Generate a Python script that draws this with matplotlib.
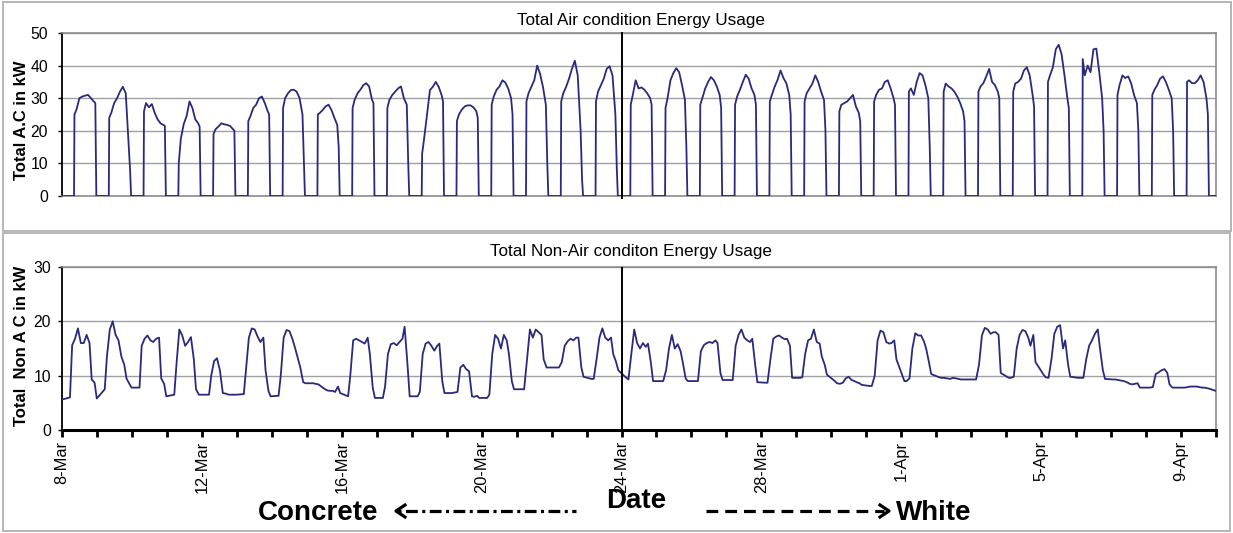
import numpy as np
import matplotlib
matplotlib.use("Agg")
import matplotlib.pyplot as plt
from matplotlib.lines import Line2D
from matplotlib.patches import Rectangle

plt.rcParams['font.family'] = ['Liberation Sans', 'DejaVu Sans']
plt.rcParams['lines.scale_dashes'] = False

# ---------------- data ----------------
# Air-condition load: hours of the day at which readings are given (AC is 0 outside START..END)
AC_START_HOUR = 8.3
AC_END_HOUR = 23.7
AC_ON_HOURS = [8.6, 10, 12, 14, 16, 18, 20, 22, 23.0]
AC_VALUES = [
    [25, 26.5, 30, 30.5, 30.8, 31, 30, 29, 28.5],
    [24, 25.5, 28.5, 30, 32, 33.5, 31.5, 15.5, 8],
    [26, 28.5, 27.2, 28.2, 25.5, 23.5, 22.3, 21.8, 21.5],
    [10, 17.5, 22, 24.5, 29, 27, 23.5, 22.3, 21.3],
    [19, 20.5, 21.3, 22.3, 22, 21.8, 21.5, 20.5, 20],
    [23, 24.4, 27, 28, 30, 30.5, 28.5, 26, 25],
    [27, 30, 31.5, 32.5, 32.6, 32, 30, 25, 10],
    [25, 25.5, 26.4, 27.5, 28, 26.4, 24, 21.8, 15],
    [27, 29.5, 31.5, 32.6, 34, 34.6, 33.6, 29.5, 28.5],
    [27, 29.5, 31, 32, 33, 33.6, 30, 28, 10],
    [13, 17.7, 25, 32.5, 33.5, 35, 33.5, 31, 29],
    [23, 25, 26.5, 27.5, 27.8, 27.8, 27.2, 26, 24],
    [28, 30.5, 32.6, 33.6, 35.5, 34.8, 33, 30, 25],
    [29, 31.5, 33.5, 35.5, 40, 37.5, 33.5, 28, 10],
    [29, 31.5, 33.5, 36, 39, 41.5, 37, 20, 5],
    [29, 32, 34, 36, 39, 39.8, 37, 25, 8],
    [28, 31, 35.5, 33, 33.3, 32.6, 31.5, 30, 28],
    [27, 30, 35.5, 37.7, 39.2, 38, 34, 29.5, 15],
    [28, 30, 33, 35, 36.5, 35.5, 33.6, 31, 27],
    [28, 30.5, 32.6, 35, 37.2, 36, 33, 31, 28],
    [29, 31, 33.6, 35.7, 38.5, 36.2, 34.6, 31, 25],
    [29, 31.5, 33, 34.5, 37, 35, 32, 29.5, 20],
    [26, 28, 28.5, 29, 30, 31, 27.5, 25.5, 23],
    [29, 31, 32.6, 33, 35, 35.5, 33, 30, 28],
    [32, 33, 31, 35, 37.7, 37, 34, 30, 15],
    [32, 34.5, 33.6, 33, 32, 30.5, 28.5, 26, 23],
    [32, 33.6, 34.6, 36.7, 39, 35, 34, 32, 30],
    [32, 34.5, 35, 36, 38.5, 39.5, 37, 31, 27.5],
    [35, 37, 39.5, 45, 46.4, 43.5, 37, 30, 27],
    [42, 37, 40, 38, 45, 45.2, 38, 30, 20],
    [31, 34, 37, 36.2, 36.7, 34.6, 31, 28.5, 20],
    [31, 32.5, 34, 36, 36.7, 35, 32.6, 30, 20],
    [35, 35.5, 34.6, 34.6, 35.5, 37, 35, 30, 25],
]

# Non air-condition load
NA_HOURS = [0, 5.5, 7, 9, 11, 13, 15, 17, 19, 20.5, 22.5]
NA_VALUES = [
    [5.6, 6, 15.6, 16.8, 18.7, 16, 16, 17.5, 16, 9.3, 8.7],
    [5.8, 7.5, 13.5, 18.5, 20, 17.5, 16.5, 13.5, 12, 9.5, 8.5],
    [7.8, 7.8, 15.5, 16.8, 17.4, 16.5, 16.2, 16.8, 17, 9.5, 8.5],
    [6.2, 6.5, 12, 18.5, 17.4, 15.5, 16.2, 17.1, 13, 7.5, 6.5],
    [6.5, 6.5, 10, 12.7, 13.2, 11, 6.8, 6.7, 6.5, 6.5, 6.5],
    [6.5, 6.6, 11, 17, 18.7, 18.5, 17.2, 16.2, 17, 11, 7.2],
    [6.2, 6.3, 10, 17, 18.4, 18.2, 16.8, 15, 13, 11.5, 8.8],
    [8.6, 8.6, 8.5, 8.4, 8, 7.6, 7.3, 7.2, 7.2, 7.0, 8.0],
    [6.8, 6.2, 10, 16.5, 16.8, 16.5, 16.2, 15.9, 17, 14, 7.8],
    [5.9, 5.9, 8, 14, 15.8, 16, 15.6, 16.2, 16.8, 19, 12],
    [6.2, 6.2, 7, 14, 15.9, 16.2, 15.5, 14.6, 15.5, 15.9, 9],
    [6.8, 6.8, 6.9, 7, 11.5, 12, 11.2, 10.8, 6.2, 6.1, 6.3],
    [5.9, 5.9, 6.5, 14, 17.5, 16.8, 15, 17.5, 16.5, 14, 9],
    [7.5, 7.5, 7.5, 13, 18.5, 17, 18.5, 18, 17.5, 13, 11.5],
    [11.5, 11.5, 11.5, 12.5, 15.5, 16.3, 16.8, 16.5, 17, 17, 11.5],
    [9.8, 9.4, 9.4, 13, 17, 18.7, 17, 16.5, 17, 14, 12.5],
    [11, 9.6, 9.3, 14, 18.5, 16, 15, 16, 15.3, 15.9, 12.4],
    [9, 9, 9, 11, 15, 17.5, 15, 15.8, 14.5, 12.5, 9.5],
    [9, 9, 9, 14.5, 15.6, 16, 16.2, 16, 16.5, 16, 10.5],
    [9.2, 9.2, 9.2, 15.5, 17.5, 18.5, 17, 16.5, 16.2, 16.8, 12],
    [8.8, 8.7, 8.7, 13, 16.8, 17.2, 17.4, 17, 16.7, 16.8, 15.5],
    [9.6, 9.6, 9.7, 14, 16.5, 16.8, 18.5, 16.2, 15.9, 13.5, 12],
    [10.2, 9, 8.6, 8.5, 8.7, 9.5, 9.8, 9.2, 9, 8.8, 8.6],
    [8.3, 8.1, 8.1, 10, 16.5, 18.3, 18, 16.2, 15.9, 16, 16.5],
    [13, 9, 9, 9.5, 15, 17.8, 17.4, 17.4, 16.3, 15, 12.4],
    [10.3, 9.7, 9.6, 9.6, 9.5, 9.4, 9.6, 9.5, 9.4, 9.3, 9.3],
    [9.3, 9.3, 9.3, 12, 17.4, 18.8, 18.5, 17.7, 18, 18, 17.5],
    [10.5, 9.6, 9.6, 9.8, 15, 17.5, 18.4, 18.2, 17, 15.5, 17.5],
    [12.5, 10.2, 9.7, 9.6, 13, 17.7, 19, 19.3, 15, 16.5, 12],
    [9.8, 9.6, 9.6, 9.6, 13, 15.5, 16.5, 17.7, 18.5, 15, 11],
    [9.4, 9.3, 9.3, 9.2, 9.1, 9.0, 8.8, 8.5, 8.4, 8.5, 8.6],
    [7.8, 7.8, 7.8, 7.9, 10.3, 10.6, 11, 11.2, 10.5, 8.4, 7.8],
    [7.8, 7.8, 7.8, 7.9, 8, 8, 8, 7.9, 7.8, 7.8, 7.7],
]
NA_TAIL_HOURS = [0, 4.5]
NA_TAIL_VALUES = [7.6, 7.2]

N_TICKS = 33
TICK_STEP = 1.0058          # one axis category (day tick) in data days
TICK_LABEL_EVERY = 4
TICK_LABELS = ['8-Mar', '12-Mar', '16-Mar', '20-Mar', '24-Mar',
               '28-Mar', '1-Apr', '5-Apr', '9-Apr']
SWITCH_TICK = 16            # 24-Mar: concrete -> white roof

# ---------------- series assembly ----------------
x_end = N_TICKS * TICK_STEP
ac_x, ac_y = [0.0], [0.0]
for d, vals in enumerate(AC_VALUES):
    ac_x += [d + AC_START_HOUR / 24] + [d + h / 24 for h in AC_ON_HOURS] + [d + AC_END_HOUR / 24]
    ac_y += [0.0] + list(vals) + [0.0]
ac_x.append(x_end)
ac_y.append(0.0)

na_x, na_y = [], []
for d, vals in enumerate(NA_VALUES):
    na_x += [d + h / 24 for h in NA_HOURS]
    na_y += list(vals)
nd = len(NA_VALUES)
na_x += [nd + h / 24 for h in NA_TAIL_HOURS]
na_y += NA_TAIL_VALUES

# ---------------- figure ----------------
W, H = 1233, 533
fig = plt.figure(figsize=(W / 100, H / 100), dpi=100)

def fx(x):
    return x / W

def fy(y):
    return 1 - y / H

LINE_C = '#2a2a7c'
GRID_C = '#a0a0a0'

# outer chart boxes
fig.add_artist(Rectangle((fx(3), fy(231)), fx(1228), 229 / H, transform=fig.transFigure,
                         fill=False, edgecolor='#b0b0b0', lw=1.3))
fig.add_artist(Rectangle((fx(3), fy(531)), fx(1227), 298 / H, transform=fig.transFigure,
                         fill=False, edgecolor='#b0b0b0', lw=1.3))

ax1 = fig.add_axes([fx(62), fy(196), fx(1154), 163 / H])
ax2 = fig.add_axes([fx(62), fy(430), fx(1154), 163 / H])

# top panel
ax1.plot(ac_x, ac_y, color=LINE_C, lw=1.3, zorder=3)
ax1.set_xlim(0, x_end)
ax1.set_ylim(0, 50)
ax1.set_yticks([0, 10, 20, 30, 40, 50])
ax1.yaxis.grid(True, color=GRID_C, lw=1.0)
ax1.set_axisbelow(True)
ax1.tick_params(axis='x', bottom=False, labelbottom=False)
ax1.tick_params(axis='y', length=3, width=1, pad=7, labelsize=11.3)
for s in ['top', 'right', 'bottom']:
    ax1.spines[s].set_color('#8c8c8c')
    ax1.spines[s].set_linewidth(1.2)
ax1.spines['left'].set_color('black')
ax1.spines['left'].set_linewidth(1.3)
ax1.axvline(SWITCH_TICK * TICK_STEP, ymin=-0.015, ymax=1, color='black', lw=1.4,
            zorder=4, clip_on=False)

# bottom panel
ax2.plot(na_x, na_y, color=LINE_C, lw=1.3, zorder=3)
ax2.set_xlim(0, x_end)
ax2.set_ylim(0, 30)
ax2.set_yticks([0, 10, 20, 30])
ax2.yaxis.grid(True, color=GRID_C, lw=1.0)
ax2.set_axisbelow(True)
ticks = [k * TICK_STEP for k in range(N_TICKS + 1)]
labels = [TICK_LABELS[k // TICK_LABEL_EVERY] if (k % TICK_LABEL_EVERY == 0 and
          k // TICK_LABEL_EVERY < len(TICK_LABELS)) else '' for k in range(N_TICKS + 1)]
ax2.set_xticks(ticks)
ax2.set_xticklabels(labels, rotation=90, fontsize=11.8)
ax2.tick_params(axis='x', length=5, width=2, pad=3, direction='out')
ax2.tick_params(axis='y', length=3, width=1, pad=5, labelsize=11.3)
for s in ['top', 'right']:
    ax2.spines[s].set_color('#8c8c8c')
    ax2.spines[s].set_linewidth(1.2)
ax2.spines['left'].set_color('black')
ax2.spines['left'].set_linewidth(1.3)
ax2.spines['bottom'].set_color('black')
ax2.spines['bottom'].set_linewidth(2.2)
ax2.axvline(SWITCH_TICK * TICK_STEP, color='black', lw=1.4, zorder=4)

# titles and axis labels
fig.text(fx(641), fy(20.5), 'Total Air condition Energy Usage', ha='center', va='center',
         fontsize=12.3)
fig.text(fx(631.5), fy(251.5), 'Total Non-Air conditon Energy Usage', ha='center',
         va='center', fontsize=12.3)
fig.text(fx(22), fy(120), 'Total A.C in kW', rotation=90, ha='center', va='center',
         fontsize=12.0, fontweight='bold')
fig.text(fx(22), fy(346), 'Total  Non A C in kW', rotation=90, ha='center', va='center',
         fontsize=12.0, fontweight='bold')

# bottom annotation
fig.text(fx(636), fy(501), 'Date', ha='center', va='center', fontsize=20, fontweight='bold')
fig.text(fx(318), fy(513), 'Concrete', ha='center', va='center', fontsize=20,
         fontweight='bold')
fig.text(fx(934), fy(513), 'White', ha='center', va='center', fontsize=20, fontweight='bold')

ay = 511
fig.add_artist(Line2D([fx(398), fx(576)], [fy(ay), fy(ay)], transform=fig.transFigure,
                      color='black', lw=2.3, dashes=[2.2, 3.2, 8.5, 3.2]))
fig.add_artist(Line2D([fx(405), fx(396), fx(405)], [fy(ay - 6), fy(ay), fy(ay + 6)],
                      transform=fig.transFigure, color='black', lw=2.3))
fig.add_artist(Line2D([fx(706), fx(884)], [fy(ay), fy(ay)], transform=fig.transFigure,
                      color='black', lw=2.3, dashes=[8.5, 5.0]))
fig.add_artist(Line2D([fx(880), fx(889), fx(880)], [fy(ay - 6), fy(ay), fy(ay + 6)],
                      transform=fig.transFigure, color='black', lw=2.3))

fig.savefig('out.png', dpi=100)
